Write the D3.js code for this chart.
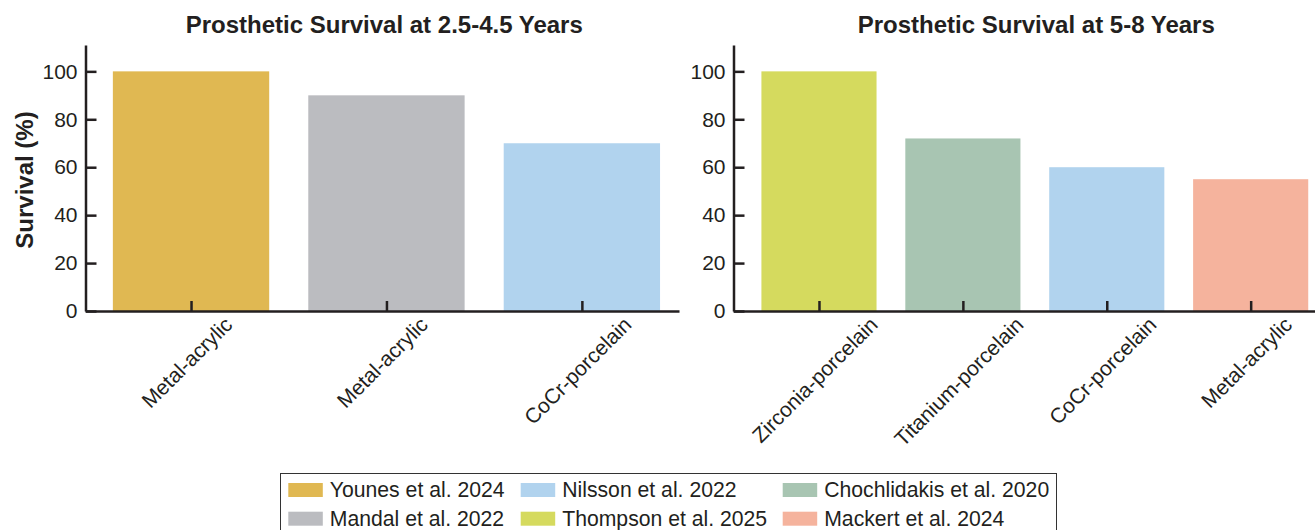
<!DOCTYPE html>
<html lang="en">
<head>
  <meta charset="UTF-8" />
  <title>Prosthetic survival</title>
  <script src="https://d3js.org/d3.v7.min.js"></script>
  <style>
    body { margin: 0; background: #fff; overflow: hidden; }
    svg { display: block; font-family: Arial, "Liberation Sans", Helvetica, sans-serif; }
    .axis path, .axis line { stroke: #231f20; stroke-width: 2.5; }
    .axis text { font-size: 21px; fill: #231f20; }
  </style>
</head>
<body>
  <script>
    // data
    const leftCats = ['Metal-acrylic', 'Metal-acrylic', 'CoCr-porcelain'];
    const leftVals = [100, 90, 70];
    const leftStudies = ['Younes et al. 2024', 'Mandal et al. 2022', 'Nilsson et al. 2022'];

    const rightCats = ['Zirconia-porcelain', 'Titanium-porcelain', 'CoCr-porcelain', 'Metal-acrylic'];
    const rightVals = [100, 72, 60, 55];
    const rightStudies = ['Thompson et al. 2025', 'Chochlidakis et al. 2020', 'Nilsson et al. 2022', 'Mackert et al. 2024'];

    const legendStudies = ['Younes et al. 2024', 'Mandal et al. 2022', 'Nilsson et al. 2022',
      'Thompson et al. 2025', 'Chochlidakis et al. 2020', 'Mackert et al. 2024'];
    const studyColors = ['#e0b852', '#bbbcc0', '#b1d3ee', '#d5da5e', '#a8c5b2', '#f5b39d'];
    const yTicks = [0, 20, 40, 60, 80, 100];

    const color = d3.scaleOrdinal().domain(legendStudies).range(studyColors);

    const svg = d3.select('body').append('svg')
      .attr('width', 1315)
      .attr('height', 530);

    const y = d3.scaleLinear().domain([0, 111]).range([311, 45]);

    function panel(cats, vals, studies, x0, x1, dom, title) {
      const x = d3.scaleLinear().domain(dom).range([x0, x1]);
      const step = x(1) - x(0);
      const g = svg.append('g');

      g.selectAll('rect')
        .data(vals)
        .join('rect')
        .attr('x', (d, i) => x(i) - step * 0.4)
        .attr('width', step * 0.8)
        .attr('y', d => y(d))
        .attr('height', d => y(0) - y(d))
        .attr('fill', (d, i) => color(studies[i]));

      // y axis, ticks pointing inward
      g.append('g')
        .attr('class', 'axis')
        .attr('transform', `translate(${x0},0)`)
        .call(d3.axisLeft(y).tickValues(yTicks).tickSizeInner(-11).tickSizeOuter(0).tickPadding(8));

      // x axis
      g.append('g')
        .attr('class', 'axis')
        .attr('transform', `translate(0,${y(0)})`)
        .call(d3.axisBottom(x).tickValues(d3.range(cats.length)).tickSizeInner(-10).tickSizeOuter(0).tickFormat(''));

      // rotated category labels
      g.selectAll('.xlab')
        .data(cats)
        .join('text')
        .attr('class', 'xlab')
        .style('font-size', '21px')
        .attr('fill', '#231f20')
        .attr('text-anchor', 'end')
        .text(d => d)
        .attr('transform', function (d, i) {
          const L = this.getComputedTextLength();
          const px = x(i) + 1 + 0.354 * L;
          return `translate(${px},326) rotate(-45)`;
        });

      g.append('text')
        .attr('x', (x0 + x1) / 2 + 2)
        .attr('y', 33)
        .attr('text-anchor', 'middle')
        .style('font-size', '24px')
        .style('font-weight', 'bold')
        .attr('fill', '#231f20')
        .text(title);
    }

    panel(leftCats, leftVals, leftStudies, 85.5, 679, [-0.54, 2.497], 'Prosthetic Survival at 2.5-4.5 Years');
    panel(rightCats, rightVals, rightStudies, 733.5, 1335, [-0.594, 3.586], 'Prosthetic Survival at 5-8 Years');

    svg.append('text')
      .attr('transform', 'translate(33,180) rotate(-90)')
      .attr('text-anchor', 'middle')
      .style('font-size', '24px')
      .style('font-weight', 'bold')
      .attr('fill', '#231f20')
      .text('Survival (%)');

    // legend
    const colX = [288.3, 520.7, 782.7];
    const rowY = [490, 518.7];
    const legend = svg.append('g');
    legend.append('rect')
      .attr('x', 280.5).attr('y', 473.5)
      .attr('width', 776).attr('height', 70)
      .attr('fill', 'none')
      .attr('stroke', '#333')
      .attr('stroke-width', 1);

    const items = legend.selectAll('.item')
      .data(legendStudies)
      .join('g')
      .attr('class', 'item')
      .attr('transform', (d, i) => `translate(${colX[Math.floor(i / 2)]},${rowY[i % 2]})`);
    items.append('rect')
      .attr('x', 0).attr('y', -7)
      .attr('width', 34.5).attr('height', 14)
      .attr('fill', d => color(d));
    items.append('text')
      .attr('x', 41.5)
      .attr('dy', '0.35em')
      .style('font-size', '21.2px')
      .attr('fill', '#231f20')
      .text(d => d);
  </script>
</body>
</html>
